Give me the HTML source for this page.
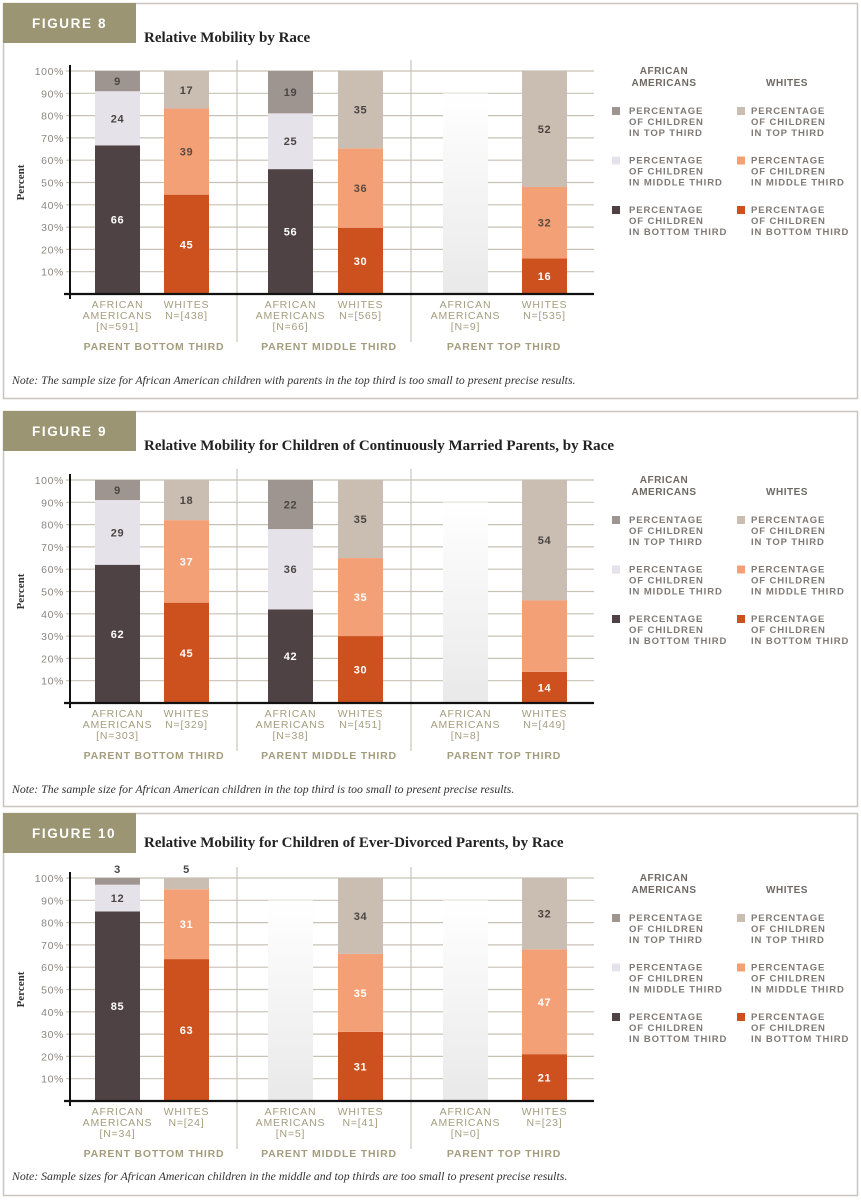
<!DOCTYPE html>
<html><head><meta charset="utf-8">
<style>
html,body{margin:0;padding:0;background:#fff;}
svg{display:block;}
.tick{font-family:"Liberation Sans",sans-serif;font-size:10.5px;fill:#8a8580;letter-spacing:0.6px;}
.xl{font-family:"Liberation Sans",sans-serif;font-size:10.5px;fill:#a39d7e;letter-spacing:0.8px;}
.gl{font-family:"Liberation Sans",sans-serif;font-size:10.5px;fill:#a39d7e;letter-spacing:0.8px;font-weight:bold;}
.lg{font-family:"Liberation Sans",sans-serif;font-size:9.5px;fill:#7e7975;letter-spacing:0.9px;font-weight:bold;}
.lh{font-family:"Liberation Sans",sans-serif;font-size:10px;fill:#6e6964;letter-spacing:0.5px;font-weight:bold;}
.val{font-family:"Liberation Sans",sans-serif;font-size:11px;font-weight:bold;letter-spacing:0.6px;}
.title{font-family:"Liberation Serif",serif;font-size:15px;font-weight:bold;fill:#222;}
.fig{font-family:"Liberation Sans",sans-serif;font-size:13.5px;font-weight:bold;fill:#fff;letter-spacing:1.6px;}
.note{font-family:"Liberation Serif",serif;font-size:11.8px;font-style:italic;fill:#333;}
.ylab{font-family:"Liberation Serif",serif;font-size:11px;font-weight:bold;fill:#333;}
</style></head>
<body>
<svg id="chart" width="861" height="1200" viewBox="0 0 861 1200" xmlns="http://www.w3.org/2000/svg">
<defs>
<linearGradient id="fade" x1="0" y1="0" x2="0" y2="1">
<stop offset="0" stop-color="#ffffff"/><stop offset="1" stop-color="#e9e9e9"/>
</linearGradient>
</defs>
</svg>
<script>
// ---- data ----
const figureNumbers = ["FIGURE 8","FIGURE 9","FIGURE 10"];
const figureTitles = ["Relative Mobility by Race","Relative Mobility for Children of Continuously Married Parents, by Race","Relative Mobility for Children of Ever-Divorced Parents, by Race"];
const figureNotes = [
 "Note: The sample size for African American children with parents in the top third is too small to present precise results.",
 "Note: The sample size for African American children in the top third is too small to present precise results.",
 "Note: Sample sizes for African American children in the middle and top thirds are too small to present precise results."];
const groupLabels = ["PARENT BOTTOM THIRD","PARENT MIDDLE THIRD","PARENT TOP THIRD"];
const yTicks = [10,20,30,40,50,60,70,80,90,100];
// per figure: [bottom, middle, top] for each of 6 bars (AA,W per group); null = suppressed
const fig8Bottom = [66,45,56,30,null,16];
const fig8Middle = [24,39,25,36,null,32];
const fig8Top    = [9,17,19,35,null,52];
const fig8N = ["[N=591]","N=[438]","[N=66]","N=[565]","[N=9]","N=[535]"];
const fig9Bottom = [62,45,42,30,null,14];
const fig9Middle = [29,37,36,35,null,32];
const fig9Top    = [9,18,22,35,null,54];
const fig9N = ["[N=303]","N=[329]","[N=38]","N=[451]","[N=8]","N=[449]"];
const fig9HideLabel = [false,false,false,false,false,true];
const fig10Bottom = [85,63,null,31,null,21];
const fig10Middle = [12,31,null,35,null,47];
const fig10Top    = [3,5,null,34,null,32];
const fig10N = ["[N=34]","N=[24]","[N=5]","N=[41]","[N=0]","N=[23]"];

const NS="http://www.w3.org/2000/svg";
const svg=document.getElementById('chart');
function mk(tag,attrs,parent,text){const e=document.createElementNS(NS,tag);for(const k in attrs)e.setAttribute(k,attrs[k]);if(text!=null)e.textContent=text;(parent||svg).appendChild(e);return e;}

const aaCols=["#4f4244","#e6e2e9","#9f9590"];
const wCols=["#cd501f","#f4a077","#cabdb2"];
const barX=[95,164,268,338,443,522];
const barW=45;

const figs=[
 {top:3,bottom:398,plotTop:71,base:294,B:fig8Bottom,M:fig8Middle,T:fig8Top,N:fig8N,hide:[],aboveTop:false},
 {top:411,bottom:806,plotTop:480,base:703,B:fig9Bottom,M:fig9Middle,T:fig9Top,N:fig9N,hide:fig9HideLabel,aboveTop:false},
 {top:813,bottom:1195,plotTop:878,base:1101,B:fig10Bottom,M:fig10Middle,T:fig10Top,N:fig10N,hide:[],aboveTop:true}
];

figs.forEach((f,fi)=>{
 const g=mk('g',{});
 
 
 const y=v=>f.base-(f.base-f.plotTop)*v/100;
 const panel=mk('rect',{x:3.5,y:f.top+0.5,width:854,height:f.bottom-f.top,fill:'#fff',stroke:'#c9c6bf','stroke-width':1.5},g);
 
 
 const hb=mk('rect',{x:3,y:f.top,width:133,height:40,fill:'#9b9573'},g);
 
 
 const fn=mk('text',{x:32,y:f.top+25,class:'fig'},g,figureNumbers[fi]);
 
 
 const tt=mk('text',{x:144,y:f.top+(fi==2?34:39),class:'title'},g,figureTitles[fi]);
 
 
 yTicks.forEach(t=>{
  const l=mk('line',{x1:66,x2:594,y1:y(t),y2:y(t),stroke:'#c8c2b5','stroke-width':1.2},g);
  
  
  const tl=mk('text',{x:64,y:y(t)+4,'text-anchor':'end',class:'tick'},g,t+'%');
  
  
 });
 [237,411].forEach(sx=>{
  const s=mk('line',{x1:sx,x2:sx,y1:f.plotTop-11,y2:f.base+48,stroke:'#c8c4bb','stroke-width':1.2},g);
  
  
 });
 const yl=mk('text',{x:0,y:0,class:'ylab','text-anchor':'middle',transform:`translate(24,${(f.plotTop+f.base)/2}) rotate(-90)`},g,'Percent');
 
 
 for(let i=0;i<6;i++){
  const isAA=i%2==0;const cols=isAA?aaCols:wCols;
  if(f.B[i]==null){
   const fb=mk('rect',{x:barX[i],y:y(90),width:barW,height:f.base-y(90),fill:'url(#fade)'},g);
   
   
  } else {
   const vals=[f.B[i],f.M[i],f.T[i]];
   const total=vals[0]+vals[1]+vals[2];
   const sc=100/total; // stacks drawn as shares of 100%
   let cum=0;
   vals.forEach((v,si)=>{
    const y0=y(cum*sc), y1=y((cum+v)*sc);
    const r=mk('rect',{x:barX[i],y:y1,width:barW,height:y0-y1,fill:cols[si]},g);
    
    
    const hide=(si==1&&f.hide[i]);
    if(!hide){
     let ly=(y0+y1)/2+4;
     if(f.aboveTop&&si==2&&v<6) ly=y(100)-5;
     const tc=si==0?'#fff':(si==1&&!isAA?(fi==0?'#5a4a40':'#fff'):'#4a4542');
     const vt=mk('text',{x:barX[i]+barW/2,y:ly,'text-anchor':'middle',class:'val',fill:tc},g,String(v));
     
     
    }
    cum+=v;
   });
  }
  const c=barX[i]+barW/2;
  const lines=isAA?['AFRICAN','AMERICANS',f.N[i]]:['WHITES',f.N[i]];
  lines.forEach((s,li)=>{
   const xt=mk('text',{x:c,y:f.base+14+li*11,'text-anchor':'middle',class:'xl'},g,s);
   
   
  });
 }
 const xa=mk('line',{x1:64,x2:594,y1:f.base,y2:f.base,stroke:'#111','stroke-width':2.2},g);
 
 
 const ya=mk('line',{x1:70,x2:70,y1:f.plotTop-6,y2:f.base+5,stroke:'#111','stroke-width':2},g);
 
 
 [154,329,504].forEach((gx,gi)=>{
  const gt=mk('text',{x:gx,y:f.base+56,'text-anchor':'middle',class:'gl'},g,groupLabels[gi]);
  
  
 });
 const nt=mk('text',{x:12,y:f.base+(fi==2?79:90),class:'note'},g,figureNotes[fi]);
 
 
 const lt=f.plotTop;
 const h1=mk('text',{x:664,y:lt+3,'text-anchor':'middle',class:'lh'},g,'AFRICAN');
 
 
 const h2=mk('text',{x:664,y:lt+15,'text-anchor':'middle',class:'lh'},g,'AMERICANS');
 
 
 const h3=mk('text',{x:787,y:lt+15,'text-anchor':'middle',class:'lh'},g,'WHITES');
 
 
 const thirds=['TOP THIRD','MIDDLE THIRD','BOTTOM THIRD'];
 [0,1,2].forEach(k=>{
  const ey=lt+36+k*49.5;
  [[612,629,aaCols[2-k]],[737,751,wCols[2-k]]].forEach(([sx,tx,col])=>{
   const sw=mk('rect',{x:sx,y:ey,width:8,height:8,fill:col},g);
   
   
   ['PERCENTAGE','OF CHILDREN','IN '+thirds[k]].forEach((s,li)=>{
    const t=mk('text',{x:tx,y:ey+7+li*11,class:'lg'},g,s);
    
    
   });
  });
 });
});
</script>
</body></html>
